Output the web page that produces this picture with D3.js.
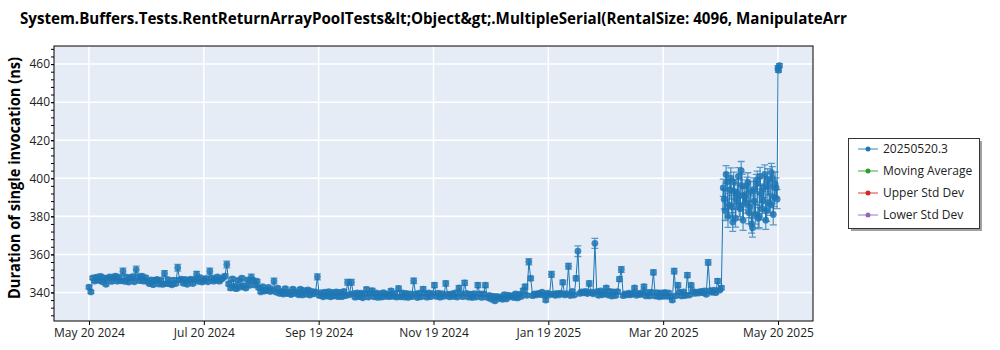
<!DOCTYPE html>
<html>
<head>
<meta charset="utf-8">
<script src="https://cdn.jsdelivr.net/npm/d3@7"></script>
<style>
  body { margin: 0; background: #fff; }
  text { font-family: "Open Sans", "Noto Sans", sans-serif; }
</style>
</head>
<body>
<div id="chart"></div>
<script>
// one run per day, starting here
var firstDay = "2024-05-20";

// duration of single invocation (ns), one per day
var durations = [
  342.8, 340.3, 347.6, 346.0, 348.1, 346.4, 348.5, 345.6, 347.7, 344.3,
  347.4, 348.2, 345.8, 347.6, 348.6, 345.9, 347.9, 346.1, 351.2, 345.8,
  348.0, 345.5, 347.5, 348.3, 345.6, 352.0, 348.1, 346.2, 348.6, 345.9,
  347.8, 345.7, 344.6, 346.6, 344.1, 346.3, 346.9, 344.4, 346.5, 344.2,
  350.0, 344.6, 346.7, 344.5, 344.0, 346.5, 344.7, 353.0, 346.6, 347.0,
  344.8, 346.8, 344.3, 346.4, 347.0, 344.7, 346.7, 349.6, 345.8, 347.8,
  345.5, 346.5, 347.4, 345.6, 351.2, 347.5, 345.9, 346.8, 348.2, 345.9,
  346.9, 347.7, 348.6, 354.7, 344.5, 342.4, 347.1, 343.3, 342.0, 346.3,
  342.8, 347.5, 343.5, 342.3, 346.6, 343.7, 348.0, 346.4, 343.9, 345.9,
  342.5, 340.3, 343.0, 340.7, 341.3, 342.7, 340.5, 341.5, 346.0, 340.2,
  342.2, 339.5, 340.5, 339.2, 342.0, 339.4, 340.3, 338.9, 341.8, 339.6,
  340.4, 338.8, 341.7, 338.7, 340.9, 339.1, 341.3, 338.6, 340.6, 339.3,
  340.3, 348.2, 338.4, 339.9, 337.7, 340.1, 338.1, 340.4, 337.7, 340.0,
  338.2, 340.3, 337.8, 340.0, 337.8, 340.5, 338.3, 345.3, 338.8, 345.3,
  339.4, 337.5, 339.8, 337.8, 339.6, 337.2, 339.3, 341.6, 337.6, 339.5,
  341.0, 337.7, 339.7, 337.4, 339.4, 337.6, 339.9, 337.9, 339.1, 337.8,
  340.8, 337.9, 339.5, 337.6, 342.1, 337.7, 339.7, 337.6, 339.5, 337.4,
  339.3, 337.8, 346.1, 339.2, 337.3, 339.6, 337.7, 341.8, 339.4, 337.5,
  339.7, 337.8, 339.4, 343.8, 337.9, 339.6, 337.5, 339.4, 338.0, 344.7,
  339.1, 337.7, 339.3, 337.9, 339.8, 337.6, 342.4, 339.4, 337.8, 345.0,
  339.5, 337.6, 339.1, 337.3, 339.4, 337.6, 343.8, 339.3, 337.4, 339.2,
  343.8, 337.3, 338.4, 336.5, 338.1, 335.6, 337.9, 336.8, 337.7, 336.4,
  338.8, 336.6, 338.6, 337.7, 338.3, 337.3, 339.3, 337.1, 339.0, 337.9,
  341.0, 343.0, 338.5, 356.1, 347.4, 338.3, 339.2, 338.7, 339.5, 338.9,
  340.1, 338.6, 336.0, 339.6, 338.8, 349.5, 339.3, 338.5, 339.5, 338.7,
  339.6, 345.3, 338.7, 339.4, 353.8, 338.4, 340.5, 338.6, 347.4, 361.7,
  339.5, 340.3, 339.8, 340.5, 339.4, 344.7, 340.1, 339.3, 365.8, 340.4,
  338.5, 340.8, 338.8, 339.6, 342.4, 338.6, 340.5, 338.1, 340.3, 338.4,
  340.4, 347.0, 352.1, 338.3, 339.3, 338.7, 339.6, 338.8, 339.4, 342.4,
  338.5, 339.5, 338.9, 339.7, 343.0, 338.2, 340.0, 338.2, 340.1, 350.5,
  338.1, 339.9, 337.7, 339.7, 337.9, 340.0, 338.0, 339.8, 337.8, 336.0,
  351.2, 338.3, 343.8, 340.1, 338.2, 340.3, 338.4, 349.1, 338.6, 343.8,
  340.5, 339.5, 340.2, 339.7, 340.6, 339.9, 340.8, 339.0, 355.8, 341.0,
  340.1, 341.2, 339.9, 346.0, 341.2, 342.4, 395.0, 383.0, 398.0, 386.0,
  400.0, 377.0, 393.0, 389.0, 401.0, 384.0, 396.0, 391.0, 387.0, 398.0,
  385.0, 376.0, 394.0, 381.0, 399.0, 380.0, 392.0, 388.0, 402.0, 383.0,
  396.0, 386.0, 400.0, 390.0, 395.0, 458.0
];

// standard deviation of each daily run (ns)
var stdDevs = [
  .9, .8, .9, .8, .9, .8, 1, .8, .9, .8,
  .8, .9, .8, .9, 1, .8, .9, .8, 1.6, .8,
  .9, .8, .8, .9, .8, 1.8, .9, .8, 1, .8,
  .9, .8, .8, .9, .8, .8, .9, .8, .8, .9,
  1.5, .8, .9, .8, .8, .9, .8, 1.8, .9, .8,
  .8, .9, .8, .8, .9, .8, .8, 1.5, .9, .8,
  .8, .9, .8, .8, 1.6, .9, .8, .8, .9, .8,
  .8, .9, 1, 1.8, .9, 1.2, .9, 1.1, 1, .9,
  1, .9, 1.1, .9, .8, .9, 1.6, .8, .9, .8,
  .9, .8, .8, .9, .8, .8, .9, .8, 1.5, .8,
  .8, .9, .8, .8, .9, .8, .8, .9, .8, .8,
  .9, .8, .8, .9, .8, .8, .9, .8, .8, .9,
  .8, 1.6, .9, .8, .8, .9, .8, .8, .9, .8,
  .8, .9, .8, .8, .9, .8, .8, 1.5, .8, 1.5,
  .8, .9, .8, .8, .9, .8, .8, 1.2, .8, .8,
  1.1, .8, .9, .8, .8, .9, .8, .8, .9, .8,
  1.1, .8, .8, .9, 1.2, .8, .8, .9, .8, .8,
  .9, .8, 1.4, .8, .8, .9, .8, 1.2, .8, .8,
  .9, .8, .8, 1.3, .8, .8, .9, .8, .8, 1.4,
  .8, .9, .8, .8, .9, .8, 1.2, .8, .8, 1.3,
  .8, .9, .8, .8, .9, .8, 1.3, .8, .8, .9,
  1.2, .8, .9, .8, .8, .9, .8, .8, .9, .8,
  .8, .9, .8, .8, .9, .8, .8, .9, .8, .8,
  1.1, 1.2, .8, 1.6, 1.2, .8, .9, .8, .8, .9,
  .8, .8, .9, .8, .8, 1.5, .8, .9, .8, .8,
  .9, 1.2, .8, .8, 1.5, .9, .8, .8, 1.3, 2.8,
  .8, .9, .8, .8, .9, 1.4, .8, .8, 2.6, .8,
  .9, .8, .8, .9, 1.1, .8, .8, .9, .8, .8,
  .9, 1.2, 1.5, .8, .8, .9, .8, .8, .9, 1.1,
  .8, .8, .9, .8, 1.2, .8, .8, .9, .8, 1.3,
  .8, .9, .8, .8, .9, .8, .8, .9, .8, .9,
  1.4, .8, 1.2, .8, .9, .8, .8, 1.3, .8, 1.1,
  .9, .8, .8, .9, .8, .8, .9, .8, 1.4, .8,
  .9, .8, .8, 1.2, .8, 1, 4.5, 5.2, 4.8, 6.1,
  5.5, 4.9, 6.3, 5.0, 4.6, 5.8, 6.0, 4.4, 5.3, 4.9,
  5.7, 4.8, 6.2, 5.1, 4.7, 5.9, 4.5, 6.4, 5.0, 5.6,
  4.8, 5.5, 6.1, 4.9, 5.2, 1.2
];

// extra runs after the regression (twice a day)
var extraTimes = [
  "2025-04-21T12", "2025-04-22T12", "2025-04-23T12", "2025-04-24T12", "2025-04-25T12",
  "2025-04-26T12", "2025-04-27T12", "2025-04-28T12", "2025-04-29T12", "2025-04-30T12",
  "2025-05-01T12", "2025-05-02T12", "2025-05-03T12", "2025-05-04T12", "2025-05-05T12",
  "2025-05-06T12", "2025-05-07T12", "2025-05-08T12", "2025-05-09T12", "2025-05-10T12",
  "2025-05-11T12", "2025-05-12T12", "2025-05-13T12", "2025-05-14T12", "2025-05-15T12",
  "2025-05-16T12", "2025-05-17T12", "2025-05-18T12", "2025-05-19T12",
  "2025-05-20T06", "2025-05-20T18"
];
var extraValues = [
  389, 402, 380, 394, 385, 398, 379, 392, 386, 404,
  378, 390, 396, 382, 393, 374, 388, 397, 379, 401,
  384, 395, 378, 399, 387, 403, 381, 397, 389,
  456.8, 459.2
];
var extraStdDevs = [
  5.1, 4.6, 5.8, 4.9, 6.0, 5.2, 4.7, 5.5, 6.2, 4.8,
  5.4, 5.0, 4.6, 5.9, 5.3, 4.9, 6.1, 5.0, 5.6, 4.7,
  5.8, 5.1, 4.9, 6.0, 5.2, 4.8, 5.5, 6.3, 5.0,
  1.1, 1.0
];

var xTickLabels = ["May 20 2024", "Jul 20 2024", "Sep 19 2024", "Nov 19 2024",
                   "Jan 19 2025", "Mar 20 2025", "May 20 2025"];
var yTicks = [340, 360, 380, 400, 420, 440, 460];

var legendNames = ["20250520.3", "Moving Average", "Upper Std Dev", "Lower Std Dev"];
var legendColors = ["#1f77b4", "#2ca02c", "#d62728", "#9467bd"];

var title = "System.Buffers.Tests.RentReturnArrayPoolTests&lt;Object&gt;.MultipleSerial(RentalSize: 4096, ManipulateArr";
var yTitle = "Duration of single invocation (ns)";

// set the dimensions and margins of the graph
var margin = {top: 46, right: 187, bottom: 29, left: 54},
    width = 1000 - margin.left - margin.right,
    height = 350 - margin.top - margin.bottom;

var root = d3.select("#chart")
  .append("svg")
    .attr("width", 1000)
    .attr("height", 350);

var svg = root.append("g")
    .attr("transform", "translate(" + margin.left + "," + margin.top + ")");

var start = d3.utcParse("%Y-%m-%d")(firstDay);
var parseHour = d3.utcParse("%Y-%m-%dT%H");

var data = durations.map(function(v, i) {
  return {date: d3.utcDay.offset(start, i), value: v, err: stdDevs[i]};
});
var lastDate = data[data.length - 1].date;

extraTimes.forEach(function(t, i) {
  data.push({date: parseHour(t), value: extraValues[i], err: extraStdDevs[i]});
});
data.sort(function(a, b) { return a.date - b.date; });

// x scale, padded a bit on both sides like the original
var x = d3.scaleUtc()
  .domain([d3.utcHour.offset(start, -445), d3.utcHour.offset(lastDate, 445)])
  .range([0, width]);

var y = d3.scaleLinear().domain([325, 469.5]).range([height, 0]);

// evenly spaced date ticks
var span = lastDate - start;
var xTickValues = xTickLabels.map(function(l, i) {
  return new Date(+start + span * i / (xTickLabels.length - 1));
});

// plot background
svg.append("rect")
  .attr("width", width)
  .attr("height", height)
  .attr("fill", "#e5ecf6");

// grid
svg.append("g").selectAll("line")
  .data(yTicks).enter().append("line")
    .attr("x1", 0).attr("x2", width)
    .attr("y1", function(d) { return y(d); })
    .attr("y2", function(d) { return y(d); })
    .attr("stroke", "#fff").attr("stroke-width", 1.5);

svg.append("g").selectAll("line")
  .data(xTickValues).enter().append("line")
    .attr("y1", 0).attr("y2", height)
    .attr("x1", function(d) { return x(d); })
    .attr("x2", function(d) { return x(d); })
    .attr("stroke", "#fff").attr("stroke-width", 1.5);

// data layer
svg.append("clipPath").attr("id", "clip")
  .append("rect").attr("width", width).attr("height", height);

var plot = svg.append("g").attr("clip-path", "url(#clip)");
var blue = legendColors[0];

plot.append("path")
  .datum(data)
  .attr("fill", "none")
  .attr("stroke", blue)
  .attr("stroke-width", 1)
  .attr("d", d3.line()
    .x(function(d) { return x(d.date); })
    .y(function(d) { return y(d.value); }));

// error bars
var bars = plot.append("g")
  .attr("stroke", blue)
  .attr("stroke-width", 1.3)
  .attr("stroke-opacity", 0.7);

bars.selectAll(".eb")
  .data(data).enter().append("path")
    .attr("class", "eb")
    .attr("fill", "none")
    .attr("d", function(d) {
      var cx = x(d.date), lo = y(d.value - d.err), hi = y(d.value + d.err);
      return "M" + cx + "," + lo + "V" + hi +
             "M" + (cx - 3.5) + "," + hi + "H" + (cx + 3.5) +
             "M" + (cx - 3.5) + "," + lo + "H" + (cx + 3.5);
    });

plot.append("g").selectAll("circle")
  .data(data).enter().append("circle")
    .attr("cx", function(d) { return x(d.date); })
    .attr("cy", function(d) { return y(d.value); })
    .attr("r", 3.4)
    .attr("fill", blue)
    .attr("fill-opacity", 0.85);

// border
svg.append("rect")
  .attr("width", width)
  .attr("height", height)
  .attr("fill", "none")
  .attr("stroke", "#000")
  .attr("stroke-width", 1);

// axes
var xAxis = svg.append("g")
  .attr("transform", "translate(0," + height + ")")
  .call(d3.axisBottom(x).tickValues(xTickValues)
    .tickFormat(function(d, i) { return xTickLabels[i]; })
    .tickSize(4).tickPadding(3));

var yMinor = svg.append("g")
  .call(d3.axisLeft(y).tickValues(d3.range(328, 469, 4)).tickSize(3).tickFormat(""));

var yAxis = svg.append("g")
  .call(d3.axisLeft(y).tickValues(yTicks).tickSize(3).tickPadding(1));

[xAxis, yAxis, yMinor].forEach(function(a) {
  a.select(".domain").remove();
  a.selectAll("line").attr("stroke", "#000");
  a.selectAll("text")
    .style("font-size", "12px")
    .style("font-family", "'Open Sans', 'Noto Sans', sans-serif")
    .attr("fill", "#222");
});

// titles
root.append("text")
  .attr("x", 20)
  .attr("y", 24)
  .attr("textLength", 827)
  .attr("lengthAdjust", "spacingAndGlyphs")
  .style("font-size", "16px")
  .style("font-weight", "bold")
  .attr("fill", "#000")
  .text(title);

root.append("text")
  .attr("transform", "translate(20,178) rotate(-90)")
  .attr("text-anchor", "middle")
  .attr("textLength", 242)
  .attr("lengthAdjust", "spacingAndGlyphs")
  .style("font-size", "16px")
  .style("font-weight", "bold")
  .attr("fill", "#000")
  .text(yTitle);

// legend
var legend = root.append("g").attr("transform", "translate(848,138)");

legend.append("rect")
  .attr("x", 3).attr("y", 3)
  .attr("width", 131).attr("height", 90)
  .attr("fill", "#a0a0a0");

legend.append("rect")
  .attr("x", 0.5).attr("y", 0.5)
  .attr("width", 131).attr("height", 90)
  .attr("fill", "#fff")
  .attr("stroke", "#333");

var items = legend.selectAll(".item")
  .data(legendNames).enter().append("g")
    .attr("class", "item")
    .attr("transform", function(d, i) { return "translate(0," + (11 + i * 22) + ")"; });

items.append("line")
  .attr("x1", 10).attr("x2", 30)
  .attr("stroke", function(d, i) { return legendColors[i]; })
  .attr("stroke-opacity", 0.75)
  .attr("stroke-width", 1.2);

items.append("circle")
  .attr("cx", 20).attr("r", 2.5)
  .attr("fill", function(d, i) { return legendColors[i]; });

items.append("text")
  .attr("x", 35)
  .attr("dy", "0.35em")
  .style("font-size", "12px")
  .attr("fill", "#222")
  .text(function(d) { return d; });
</script>
</body>
</html>
